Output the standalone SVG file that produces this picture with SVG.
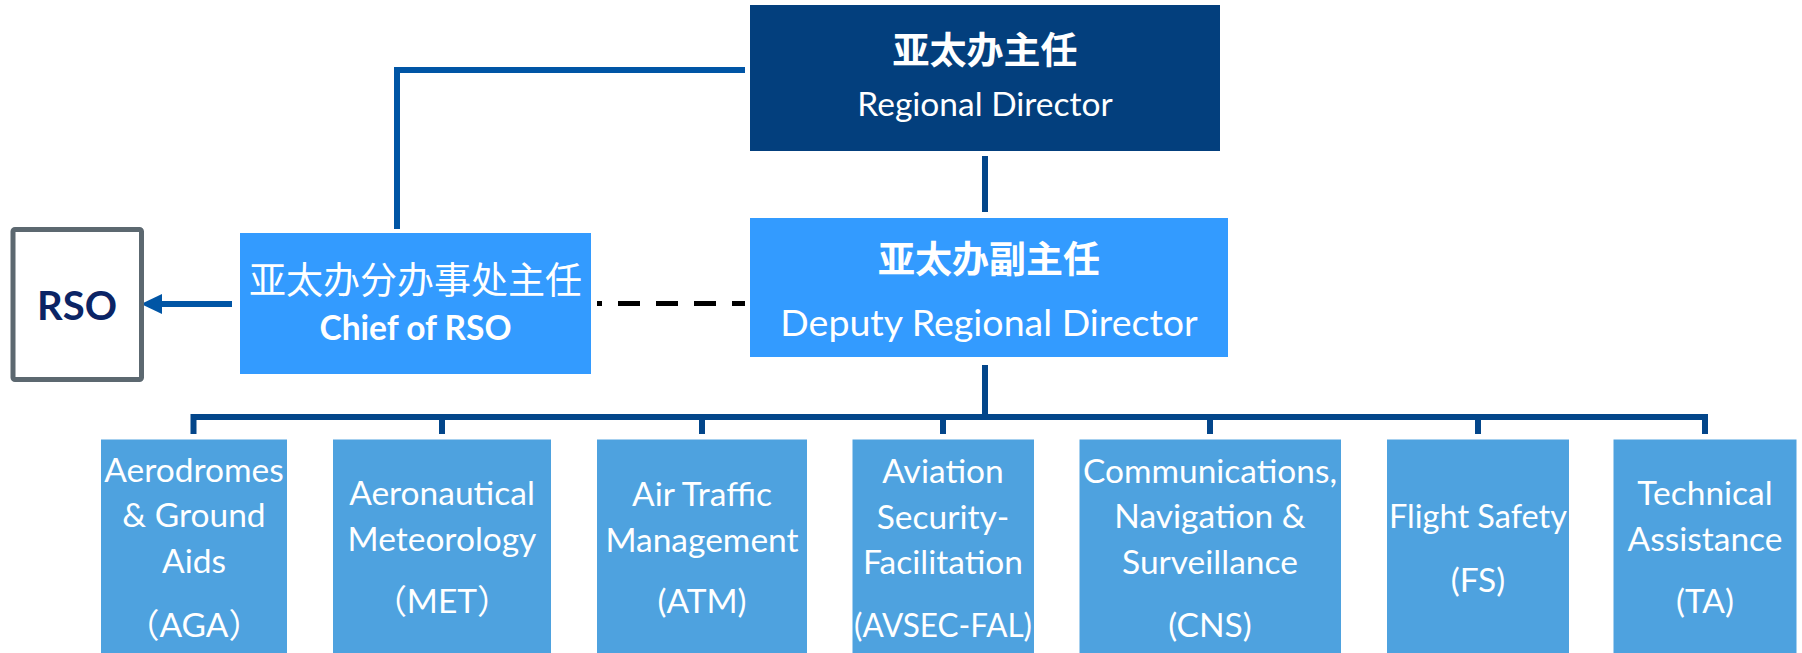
<svg xmlns="http://www.w3.org/2000/svg" width="1802" height="653" viewBox="0 0 1802 653">
<style>
.en{font-family:Lato,"Noto Sans","Noto Sans CJK SC",sans-serif;fill:#fff;text-anchor:middle}
.cn{font-family:"Noto Sans CJK SC",sans-serif;fill:#fff;text-anchor:middle}
.b{font-weight:bold}
.unit{fill:#4ea2df}
.sub{font-size:33.5px}
.conn{fill:none;stroke-linejoin:miter}
</style>
<defs>
<marker id="ah" markerUnits="userSpaceOnUse" markerWidth="21" markerHeight="20" refX="0" refY="10" orient="auto" viewBox="0 0 21 20">
<path d="M0,0 L21,10 L0,20 Z" fill="#0055a5"/>
</marker>
</defs>
<rect width="1802" height="653" fill="#fff"/>
<g id="connectors" class="conn">
<path d="M397,229 V70 H745" stroke="#0055a5" stroke-width="6"/>
<line x1="232" y1="304" x2="162" y2="304" stroke="#0055a5" stroke-width="6" marker-end="url(#ah)"/>
<line x1="597" y1="303.5" x2="745" y2="303.5" stroke="#000" stroke-width="5" stroke-dasharray="22 16" stroke-dashoffset="17"/>
<line x1="985" y1="156" x2="985" y2="212" stroke="#03468a" stroke-width="6"/>
<line x1="985" y1="365" x2="985" y2="417" stroke="#03468a" stroke-width="6"/>
<path d="M193.5,434 V417 H1705 V434" stroke="#03468a" stroke-width="6"/>
<path d="M442,417 V434 M702,417 V434 M943,417 V434 M1210,417 V434 M1478,417 V434" stroke="#03468a" stroke-width="6"/>
</g>
<g id="regional-director">
<rect x="750" y="5" width="470" height="146" fill="#033f7d"/>
<text class="cn b" x="985" y="64" font-size="37">亚太办主任</text>
<text class="en" x="985" y="116" font-size="33.5">Regional Director</text>
</g>
<g id="deputy-director">
<rect x="750" y="218" width="478" height="139" fill="#339bff"/>
<text class="cn b" x="989" y="273" font-size="37">亚太办副主任</text>
<text class="en" x="989" y="336" font-size="37.5">Deputy Regional Director</text>
</g>
<g id="chief-rso">
<rect x="240" y="233" width="351" height="141" fill="#339bff"/>
<text class="cn" x="415.5" y="294" font-size="37">亚太办分办事处主任</text>
<text class="en b" x="415.5" y="340" font-size="33.5">Chief of RSO</text>
</g>
<g id="rso">
<rect x="13" y="229.5" width="128.5" height="150" rx="2" fill="#fff" stroke="#5c6870" stroke-width="5"/>
<text x="77" y="320" font-family="Lato,'Noto Sans',sans-serif" font-weight="bold" font-size="40" fill="#0b2465" text-anchor="middle">RSO</text>
</g>
<g id="aga">
<rect class="unit" x="101" y="439.5" width="186" height="214"/>
<text class="en sub" x="194" y="482">Aerodromes</text>
<text class="en sub" x="194" y="527">&amp; Ground</text>
<text class="en sub" x="194" y="573">Aids</text>
<text class="en sub" x="194" y="637">（AGA）</text>
</g>
<g id="met">
<rect class="unit" x="333" y="439.5" width="218" height="214"/>
<text class="en sub" x="442" y="505">Aeronautical</text>
<text class="en sub" x="442" y="551">Meteorology</text>
<text class="en sub" x="442" y="613">（MET）</text>
</g>
<g id="atm">
<rect class="unit" x="597" y="439.5" width="210" height="214"/>
<text class="en sub" x="702" y="506">Air Traffic</text>
<text class="en sub" x="702" y="552">Management</text>
<text class="en sub" x="702" y="613">(ATM)</text>
</g>
<g id="avsec">
<rect class="unit" x="852.5" y="439.5" width="181.5" height="214"/>
<text class="en sub" x="943" y="483">Aviation</text>
<text class="en sub" x="943" y="529">Security-</text>
<text class="en sub" x="943" y="574">Facilitation</text>
<text class="en sub" x="943" y="637" textLength="178" lengthAdjust="spacingAndGlyphs">(AVSEC-FAL)</text>
</g>
<g id="cns">
<rect class="unit" x="1079.5" y="439.5" width="261.5" height="214"/>
<text class="en sub" x="1210" y="483" textLength="254" lengthAdjust="spacingAndGlyphs">Communications,</text>
<text class="en sub" x="1210" y="528">Navigation &amp;</text>
<text class="en sub" x="1210" y="574">Surveillance</text>
<text class="en sub" x="1210" y="637">(CNS)</text>
</g>
<g id="fs">
<rect class="unit" x="1387" y="439.5" width="182" height="214"/>
<text class="en sub" x="1478" y="528" textLength="178" lengthAdjust="spacingAndGlyphs">Flight Safety</text>
<text class="en sub" x="1478" y="592">(FS)</text>
</g>
<g id="ta">
<rect class="unit" x="1613.5" y="439.5" width="183" height="214"/>
<text class="en sub" x="1705" y="505">Technical</text>
<text class="en sub" x="1705" y="551">Assistance</text>
<text class="en sub" x="1705" y="613">(TA)</text>
</g>
</svg>
